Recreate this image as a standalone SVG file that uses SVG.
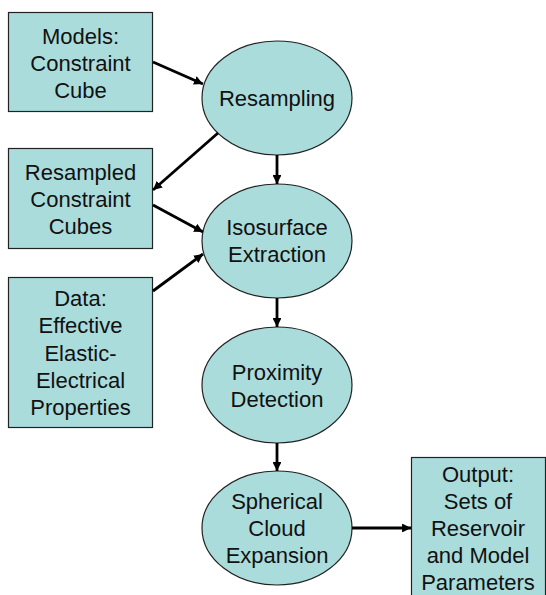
<svg xmlns="http://www.w3.org/2000/svg" width="546" height="595" viewBox="0 0 546 595">
<style>
.n{fill:#aadcdc;stroke:#222;stroke-width:1.2}
.t{font-family:"Liberation Sans",Arial,sans-serif;font-size:22px;fill:#111;text-anchor:middle}
.c{stroke:#000;stroke-width:2.8;fill:none;marker-end:url(#ah)}
</style>
<defs>
<marker id="ah" viewBox="0 0 10 10" refX="10" refY="5" markerWidth="3.2" markerHeight="3.2" orient="auto" markerUnits="strokeWidth">
<path d="M0,0L10,5L0,10z" fill="#000"/>
</marker>
</defs>
<rect width="546" height="595" fill="#fff"/>
<g id="models">
<rect class="n" x="8.5" y="12.5" width="144" height="99"/>
<text class="t" x="80.5" y="44">Models:</text>
<text class="t" x="80.5" y="71">Constraint</text>
<text class="t" x="80.5" y="98">Cube</text>
</g>
<g id="resampled">
<rect class="n" x="8.5" y="148.5" width="144" height="100"/>
<text class="t" x="80.5" y="180">Resampled</text>
<text class="t" x="80.5" y="207">Constraint</text>
<text class="t" x="80.5" y="234">Cubes</text>
</g>
<g id="data">
<rect class="n" x="8.5" y="277.5" width="144" height="150"/>
<text class="t" x="80.5" y="306">Data:</text>
<text class="t" x="80.5" y="333">Effective</text>
<text class="t" x="80.5" y="361">Elastic-</text>
<text class="t" x="80.5" y="388">Electrical</text>
<text class="t" x="80.5" y="415">Properties</text>
</g>
<g id="output">
<rect class="n" x="411.5" y="457.5" width="134" height="145"/>
<text class="t" x="478" y="482">Output:</text>
<text class="t" x="478" y="509">Sets of</text>
<text class="t" x="478" y="536">Reservoir</text>
<text class="t" x="478" y="563">and Model</text>
<text class="t" x="478" y="590">Parameters</text>
</g>
<g id="resampling">
<ellipse class="n" cx="277" cy="98" rx="75" ry="57"/>
<text class="t" x="277" y="106">Resampling</text>
</g>
<g id="isosurface">
<ellipse class="n" cx="277" cy="241" rx="75" ry="57"/>
<text class="t" x="277" y="235">Isosurface</text>
<text class="t" x="277" y="262">Extraction</text>
</g>
<g id="proximity">
<ellipse class="n" cx="277" cy="385" rx="75" ry="58"/>
<text class="t" x="277" y="380">Proximity</text>
<text class="t" x="277" y="407">Detection</text>
</g>
<g id="spherical">
<ellipse class="n" cx="277" cy="528" rx="75" ry="57"/>
<text class="t" x="277" y="509">Spherical</text>
<text class="t" x="277" y="536">Cloud</text>
<text class="t" x="277" y="563">Expansion</text>
</g>
<g id="connectors">
<line class="c" x1="153" y1="62" x2="203" y2="84"/>
<line class="c" x1="218" y1="133" x2="153" y2="190"/>
<line class="c" x1="153" y1="205" x2="203" y2="232"/>
<line class="c" x1="153" y1="291" x2="203" y2="254"/>
<line class="c" x1="277" y1="155" x2="277" y2="184"/>
<line class="c" x1="277" y1="298" x2="277" y2="327"/>
<line class="c" x1="277" y1="443" x2="277" y2="471"/>
<line class="c" x1="352" y1="528" x2="411" y2="528"/>
</g>
</svg>
